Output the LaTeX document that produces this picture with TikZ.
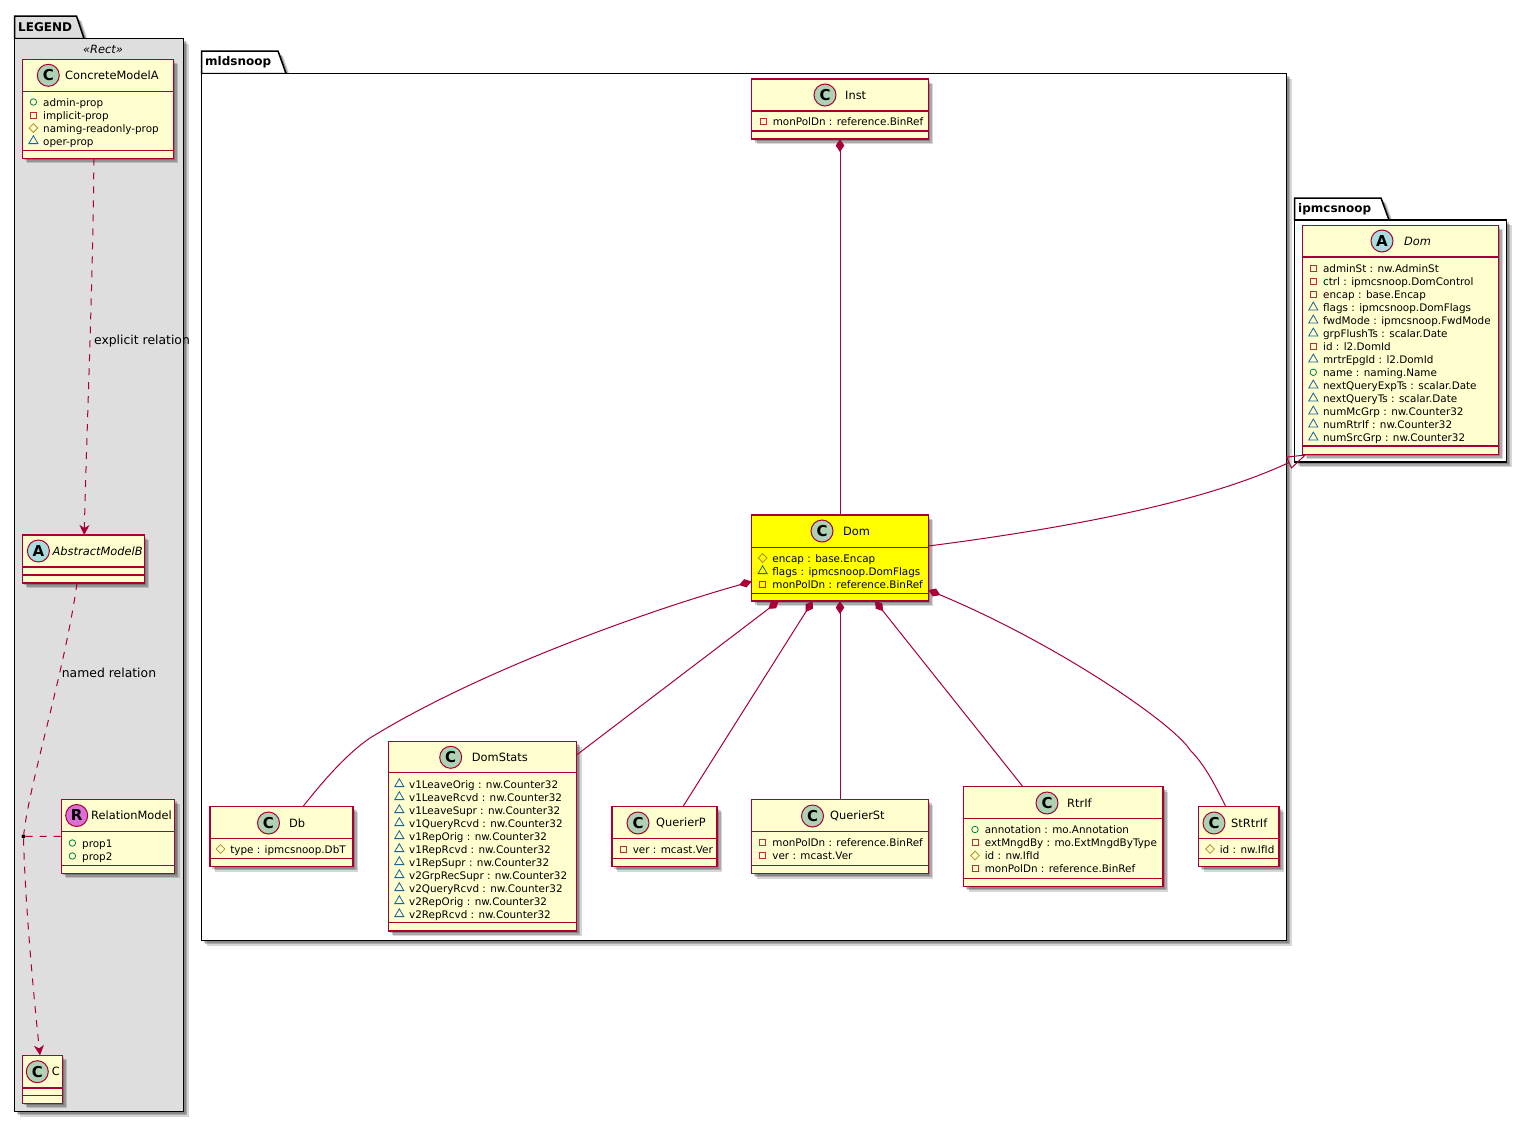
\documentclass[tikz,border=0pt]{standalone}
\usepackage{fontspec}
\setmainfont{DejaVu Sans}
\usepackage{xcolor}
\definecolor{Col1}{HTML}{A80036}
\definecolor{Col2}{HTML}{FEFECE}
\definecolor{DomFill}{HTML}{FFFF00}
\definecolor{IconC}{HTML}{ADD1B2}
\definecolor{IconA}{HTML}{A9DCDF}
\definecolor{IconR}{HTML}{DA70D6}
\definecolor{VisO}{HTML}{038048}
\definecolor{VisP}{HTML}{C82930}
\definecolor{VisD}{HTML}{B38D22}
\definecolor{VisT}{HTML}{1963A0}
\usetikzlibrary{arrows.meta,shapes.geometric,shadows}
\tikzstyle{Shadowed}=[general shadow={shadow xshift=2pt,shadow yshift=-2pt,fill=black,opacity=.2},
general shadow={shadow xshift=3.5pt,shadow yshift=-3.5pt,fill=black,opacity=.2},
general shadow={shadow xshift=5pt,shadow yshift=-5pt,fill=black,opacity=.16}]
\tikzstyle{Class}=[rectangle,draw=Col1,fill=Col2,line width=1.4pt,inner sep=0pt,outer sep=0pt,Shadowed]
\tikzstyle{Sep}=[draw=Col1,line width=1.4pt]
\tikzstyle{Pkg}=[rectangle,draw=black,fill=white,line width=1.5pt,inner sep=0pt,outer sep=0pt,Shadowed]
\tikzstyle{Tab}=[draw=black,fill=white,line width=1.5pt,Shadowed]
\tikzstyle{PkgName}=[anchor=west,inner sep=0pt,font=\fontsize{12}{14}\selectfont\bfseries]
\tikzstyle{Icon}=[circle,draw=Col1,line width=1pt,minimum size=22pt,inner sep=0pt,font=\fontsize{15}{17}\selectfont\bfseries]
\tikzstyle{Name}=[anchor=west,inner sep=0pt,font=\fontsize{11.4}{14}\selectfont]
\tikzstyle{Attr}=[anchor=west,inner sep=0pt,yshift=-1.3pt,text height=8pt,text depth=2.5pt,font=\fontsize{10.4}{12}\selectfont]
\tikzstyle{EdgeLabel}=[inner sep=0pt,font=\fontsize{12.4}{14}\selectfont]
\tikzstyle{VisO}=[circle,draw=VisO,minimum size=6.5pt,inner sep=0pt,line width=.8pt]
\tikzstyle{VisP}=[rectangle,draw=VisP,minimum size=6pt,inner sep=0pt,line width=.9pt]
\tikzstyle{VisD}=[diamond,draw=VisD,minimum size=9pt,inner sep=0pt,line width=.8pt]
\tikzstyle{VisT}=[regular polygon,regular polygon sides=3,draw=VisT,minimum size=10.5pt,inner sep=0pt,line width=.8pt]
\tikzstyle{Edge}=[draw=Col1,line width=1pt]
\tikzstyle{Comp}=[Edge,{Diamond[length=13pt,width=8.5pt]}-]
\tikzstyle{Gen}=[Edge,-{Triangle[open,length=20pt,width=13pt]}]
\tikzstyle{Rel}=[Edge,dash pattern=on 7pt off 7pt]
\tikzstyle{RelTip}=[Rel,-{Stealth[length=10pt,width=10pt,inset=3pt]}]
\tikzstyle{Dot}=[circle,fill=black,minimum size=4pt,inner sep=0pt]
\newcommand{\ClassBox}[8]{
  \node[Class,#2,minimum width={(#5-#3)*1pt},minimum height={(#6-#4)*1pt}](#1)at({(#3+#5)/2},{(#4+#6)/2}){};
  \draw[Sep](#3,#7)--(#5,#7);
  \draw[Sep](#3,#8)--(#5,#8);
}
\newcommand{\Head}[7]{
  \node[Icon,fill=#3](#1Icon)at(#4,#6){#2};
  \node[Name](#1Name)at(#5,#6){#7};
}
\newcommand{\Rows}[4]{
  \foreach \k/\t [count=\i] in {#4}{
    \node[Vis\k](#1Vis\i)at(#2,{#3+13*(\i-1)}){};
    \node[Attr](#1Attr\i)at({#2+9.6},{#3+13*(\i-1)}){\t};
  }
}

\begin{document}
\begin{tikzpicture}[x=1pt,y=-1pt]
        \useasboundingbox(0,0)rectangle(1527,1122);
        \draw[Tab,fill=black!13](14.5,38.5)--(14.5,16)--(76.5,16)--(84,38.5)--cycle;
        \node[Pkg,fill=black!13,minimum width=169pt,minimum height=1073pt](Legend)at(99,575){};
        \node[PkgName](LegendName)at(18,27.5){LEGEND};
        \draw[Tab](201.5,73.5)--(201.5,51)--(278,51)--(286,73.5)--cycle;
        \node[Pkg,minimum width=1085pt,minimum height=867pt](Mldsnoop)at(744,507){};
        \node[PkgName](MldsnoopName)at(205,62.5){mldsnoop};
        \draw[Tab](1294.5,220)--(1294.5,198)--(1381,198)--(1389,220)--cycle;
        \node[Pkg,minimum width=212pt,minimum height=242pt](Ipmcsnoop)at(1400.5,341){};
        \node[PkgName](IpmcsnoopName)at(1298,209.5){ipmcsnoop};

        \node[inner sep=0pt,font=\fontsize{11.4}{14}\selectfont\itshape](RectTag)at(103,49.5){«Rect»};
        \ClassBox{Concrete}{}{22.4}{59.4}{173.4}{158.3}{91.3}{150.7}
        \Head{Concrete}{C}{IconC}{48.3}{65}{75.3}{ConcreteModelA}
        \Rows{Concrete}{33.4}{102}{O/admin-prop,P/implicit-prop,D/naming-readonly-prop,T/oper-prop}
        \ClassBox{Abstract}{}{22.4}{535}{144.4}{583}{567}{575}
        \Head{Abstract}{A}{IconA}{38.4}{52.5}{551}{\itshape AbstractModelB}
        \ClassBox{Relation}{}{61.4}{799.3}{174.6}{873.3}{831.7}{865.7}
        \Head{Relation}{R}{IconR}{76.7}{91}{815.5}{RelationModel}
        \Rows{Relation}{72.4}{843}{O/prop1,O/prop2}
        \ClassBox{C}{}{22.3}{1055.3}{62.3}{1103.3}{1088}{1095.3}
        \Head{C}{C}{IconC}{37.3}{51.7}{1071.7}{C}
        \node[Dot](RelPoint)at(23.5,836.4){};

        \ClassBox{Inst}{}{751.6}{79}{928.4}{139}{111}{131}
        \Head{Inst}{C}{IconC}{825}{845}{95}{Inst}
        \Rows{Inst}{763}{121.5}{P/monPolDn : reference.BinRef}
        \ClassBox{Dom}{fill=DomFill}{751.6}{515}{928.4}{601}{547.3}{593.7}
        \Head{Dom}{C}{IconC}{822}{843}{531}{Dom}
        \Rows{Dom}{762.6}{558}{D/encap : base.Encap,T/flags : ipmcsnoop.DomFlags,P/monPolDn : reference.BinRef}
        \ClassBox{Db}{}{210}{806.5}{353}{866.5}{838.5}{858.5}
        \Head{Db}{C}{IconC}{268.5}{289}{823}{Db}
        \Rows{Db}{220.5}{849}{D/type : ipmcsnoop.DbT}
        \ClassBox{DomStats}{}{388.3}{741.7}{576.6}{931}{772.7}{922.7}
        \Head{DomStats}{C}{IconC}{450.7}{471.7}{757.3}{DomStats}
        \Rows{DomStats}{399.3}{784}{T/v1LeaveOrig : nw.Counter32,T/v1LeaveRcvd : nw.Counter32,T/v1LeaveSupr : nw.Counter32,T/v1QueryRcvd : nw.Counter32,T/v1RepOrig : nw.Counter32,T/v1RepRcvd : nw.Counter32,T/v1RepSupr : nw.Counter32,T/v2GrpRecSupr : nw.Counter32,T/v2QueryRcvd : nw.Counter32,T/v2RepOrig : nw.Counter32,T/v2RepRcvd : nw.Counter32}
        \ClassBox{QuerierP}{}{612}{806.5}{717}{866.5}{838.5}{858.5}
        \Head{QuerierP}{C}{IconC}{638}{656}{823}{QuerierP}
        \Rows{QuerierP}{623}{849}{P/ver : mcast.Ver}
        \ClassBox{QuerierSt}{}{751.6}{799.5}{928.4}{873.5}{831.5}{865.5}
        \Head{QuerierSt}{C}{IconC}{812.5}{830}{816}{QuerierSt}
        \Rows{QuerierSt}{762.6}{842.5}{P/monPolDn : reference.BinRef,P/ver : mcast.Ver}
        \ClassBox{RtrIf}{}{963.5}{786.5}{1163}{886.5}{818.5}{878.5}
        \Head{RtrIf}{C}{IconC}{1047}{1067}{803}{RtrIf}
        \Rows{RtrIf}{975}{829.5}{O/annotation : mo.Annotation,P/extMngdBy : mo.ExtMngdByType,D/id : nw.IfId,P/monPolDn : reference.BinRef}
        \ClassBox{StRtrIf}{}{1198.5}{806.5}{1279}{866.5}{838.5}{858.5}
        \Head{StRtrIf}{C}{IconC}{1214}{1231}{823}{StRtrIf}
        \Rows{StRtrIf}{1210}{849}{D/id : nw.IfId}
        \ClassBox{IpmDom}{}{1302.3}{225.3}{1498.3}{454.3}{257}{446}
        \Head{IpmDom}{A}{IconA}{1382}{1404}{241}{\itshape Dom}
        \Rows{IpmDom}{1313.3}{268.3}{P/adminSt : nw.AdminSt,P/ctrl : ipmcsnoop.DomControl,P/encap : base.Encap,T/flags : ipmcsnoop.DomFlags,T/fwdMode : ipmcsnoop.FwdMode,T/grpFlushTs : scalar.Date,P/id : l2.DomId,T/mrtrEpgId : l2.DomId,O/name : naming.Name,T/nextQueryExpTs : scalar.Date,T/nextQueryTs : scalar.Date,T/numMcGrp : nw.Counter32,T/numRtrIf : nw.Counter32,T/numSrcGrp : nw.Counter32}

        \draw[Comp](Inst.south)--(Dom.north);
        \draw[Comp]([yshift=-23.5pt]Dom.west)..controls(650,610)and(480,670)..(370,738)..controls(345,755)and(320,785)..([xshift=21.5pt]Db.north);
        \draw[Comp]([xshift=-61.3pt]Dom.south)--([yshift=81.4pt]DomStats.east);
        \draw[Comp]([xshift=-27.3pt]Dom.south)--([xshift=18.5pt]QuerierP.north);
        \draw[Comp](Dom.south)--(QuerierSt.north);
        \draw[Comp]([xshift=35pt]Dom.south)--([xshift=-40.5pt]RtrIf.north);
        \draw[Comp]([yshift=-32pt]Dom.east)..controls(1060,645)and(1175,725)..(1190,750)..controls(1205,765)and(1215,785)..([xshift=-13pt]StRtrIf.north);
        \draw[Gen]([yshift=12pt]Dom.east)..controls(1130,520)and(1230,490)..([xshift=4.4pt]IpmDom.south west);
        \draw[RelTip]([xshift=-4pt]Concrete.south)..controls(93,280)and(87,420)..([xshift=.8pt]Abstract.north);
        \node[EdgeLabel](ExplicitLabel)at(142,341){explicit relation};
        \draw[Rel]([xshift=-6.4pt]Abstract.south)..controls(65,670)and(30,780)..(RelPoint);
        \node[EdgeLabel](NamedLabel)at(109,673){named relation};
        \draw[Rel](RelPoint)--(Relation.west);
        \draw[RelTip](RelPoint)..controls(25,900)and(33,990)..([xshift=-2.3pt]C.north);
    \end{tikzpicture}
\end{document}
